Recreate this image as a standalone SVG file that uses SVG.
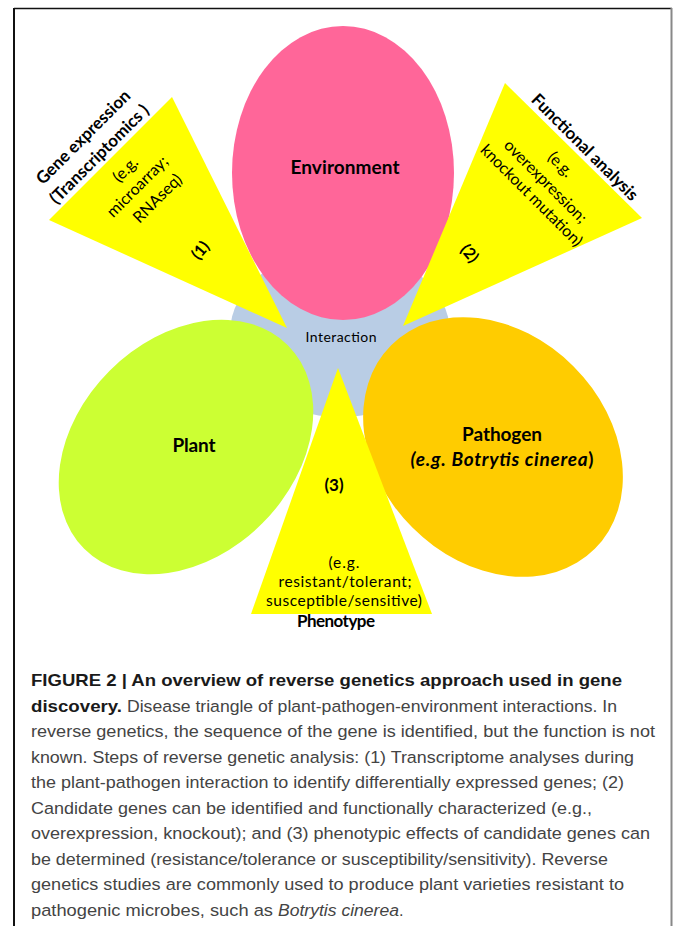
<svg xmlns="http://www.w3.org/2000/svg" width="673" height="926" viewBox="0 0 673 926">
<style>
.lbl{font-family:Lato,"Open Sans","Liberation Sans",sans-serif;fill:#000;}
.b{font-weight:bold;}
.cap{font-family:"Liberation Sans",Arial,sans-serif;font-size:16.3px;fill:#444;}
.capb{font-family:"Liberation Sans",Arial,sans-serif;font-size:16.3px;font-weight:bold;fill:#1a1a1a;}
.tri{fill:#FFFF00;}
</style>
<rect x="0" y="0" width="673" height="926" fill="#fff"/>
<g id="frame">
<line x1="14" y1="8.5" x2="672" y2="8.5" stroke="#111" stroke-width="1.5"/>
<line x1="14" y1="8" x2="14" y2="926" stroke="#111" stroke-width="2"/>
<line x1="671.5" y1="8" x2="671.5" y2="926" stroke="#888" stroke-width="2"/>
</g>
<g id="interaction">
<ellipse cx="340" cy="333" rx="110" ry="84" fill="#B9CDE5"/>
<text class="lbl" x="341" y="342" font-size="14" text-anchor="middle" textLength="71" fill="#222">Interaction</text>
</g>
<g id="environment">
<ellipse cx="343" cy="173" rx="111" ry="147" fill="#FF6699"/>
<text class="lbl b" x="345" y="174" font-size="19" text-anchor="middle" textLength="109">Environment</text>
</g>
<g id="step1">
<polygon class="tri" points="172,97 49,220 287,328"/>
<g class="lbl" text-anchor="middle">
<text class="b" font-size="17" transform="translate(83 137) rotate(-45)" y="6">Gene expression</text>
<text class="b" font-size="17" transform="translate(99 154) rotate(-45)" y="6">(Transcriptomics )</text>
<text font-size="16" transform="translate(125 169) rotate(-45)" y="6">(e.g.</text>
<text font-size="16" transform="translate(137 186) rotate(-45)" y="6">microarray;</text>
<text font-size="16" transform="translate(157 198) rotate(-45)" y="6">RNAseq)</text>
<text class="b" font-size="16" transform="translate(200 250) rotate(-50)" y="6">(1)</text>
</g>
</g>
<g id="step2">
<polygon class="tri" points="505,83 642,218 403,326"/>
<g class="lbl" text-anchor="middle">
<text class="b" font-size="17" transform="translate(585 147) rotate(45)" y="6">Functional analysis</text>
<text font-size="16" transform="translate(561 164) rotate(45)" y="6">(e.g.</text>
<text font-size="16" transform="translate(546 181) rotate(45)" y="6">overexpression;</text>
<text font-size="16" transform="translate(532 195) rotate(45)" y="6">knockout mutation)</text>
<text class="b" font-size="16" transform="translate(470 253) rotate(50)" y="6">(2)</text>
</g>
</g>
<g id="plant">
<ellipse cx="186" cy="447" rx="144" ry="108" transform="rotate(-45 186 447)" fill="#CCFF33"/>
<text class="lbl b" x="194" y="452" font-size="19" text-anchor="middle" textLength="43">Plant</text>
</g>
<g id="pathogen">
<ellipse cx="493" cy="447" rx="144" ry="114" transform="rotate(45 493 447)" fill="#FFCC00"/>
<text class="lbl b" x="502" y="441" font-size="19" text-anchor="middle" textLength="80">Pathogen</text>
<text class="lbl b" x="502" y="466" font-size="19" text-anchor="middle" textLength="183"><tspan font-style="italic">(e.g. Botrytis cinerea</tspan>)</text>
</g>
<g id="step3">
<polygon class="tri" points="338,368 251,614 432,614"/>
<g class="lbl" text-anchor="middle">
<text class="b" x="334" y="491" font-size="17">(3)</text>
<text x="344" y="568" font-size="15.5" textLength="31">(e.g.</text>
<text x="345" y="587" font-size="15.5" textLength="133">resistant/tolerant;</text>
<text x="344" y="606" font-size="15.5" textLength="156">susceptible/sensitive)</text>
<text class="b" x="336" y="627" font-size="17" textLength="78">Phenotype</text>
</g>
</g>
<g id="caption">
<text class="capb" x="31" y="686" textLength="591" lengthAdjust="spacingAndGlyphs">FIGURE 2 | An overview of reverse genetics approach used in gene</text>
<text class="capb" x="31" y="711.5" textLength="91" lengthAdjust="spacingAndGlyphs">discovery.</text>
<text class="cap" x="127" y="711.5" textLength="490" lengthAdjust="spacingAndGlyphs">Disease triangle of plant-pathogen-environment interactions. In</text>
<text class="cap" x="31" y="737" textLength="624" lengthAdjust="spacingAndGlyphs">reverse genetics, the sequence of the gene is identified, but the function is not</text>
<text class="cap" x="31" y="762.5" textLength="603" lengthAdjust="spacingAndGlyphs">known. Steps of reverse genetic analysis: (1) Transcriptome analyses during</text>
<text class="cap" x="31" y="788" textLength="593" lengthAdjust="spacingAndGlyphs">the plant-pathogen interaction to identify differentially expressed genes; (2)</text>
<text class="cap" x="31" y="813.5" textLength="561" lengthAdjust="spacingAndGlyphs">Candidate genes can be identified and functionally characterized (e.g.,</text>
<text class="cap" x="31" y="839" textLength="619" lengthAdjust="spacingAndGlyphs">overexpression, knockout); and (3) phenotypic effects of candidate genes can</text>
<text class="cap" x="31" y="864.5" textLength="577" lengthAdjust="spacingAndGlyphs">be determined (resistance/tolerance or susceptibility/sensitivity). Reverse</text>
<text class="cap" x="31" y="890" textLength="593" lengthAdjust="spacingAndGlyphs">genetics studies are commonly used to produce plant varieties resistant to</text>
<text class="cap" x="31" y="915.5" textLength="242" lengthAdjust="spacingAndGlyphs">pathogenic microbes, such as</text>
<text class="cap" x="278" y="915.5" font-style="italic" textLength="121" lengthAdjust="spacingAndGlyphs">Botrytis cinerea</text>
<text class="cap" x="399" y="915.5">.</text>
</g>
</svg>
